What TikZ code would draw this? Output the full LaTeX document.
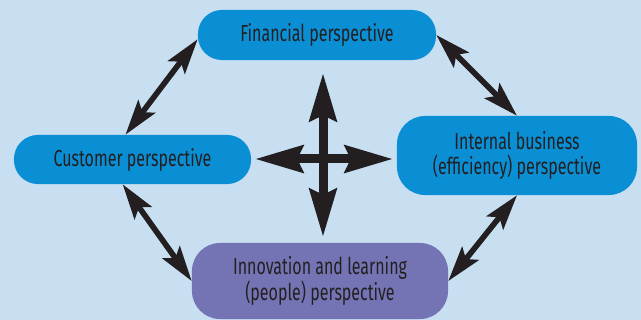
\documentclass[tikz,border=0pt]{standalone}
\usepackage{fontspec}
\setmainfont[FakeStretch=0.69]{Fira Sans}
\usetikzlibrary{arrows.meta}

\definecolor{bgblue}{HTML}{C8DFF2}
\definecolor{boxblue}{HTML}{0A8FD5}
\definecolor{boxpurple}{HTML}{7474B5}
\definecolor{ink}{HTML}{231F20}

\begin{document}
\begin{tikzpicture}[
  x=0.025cm, y=-0.025cm,
  persp/.style={rectangle, rounded corners=17pt, fill=boxblue, text=ink,
    align=center, inner sep=0pt, font=\fontsize{16.5}{18}\selectfont},
  tallpersp/.style={persp, rounded corners=20pt, minimum height=55pt},
  link/.style={draw=ink, line width=4pt,
    {Stealth[length=25pt, width=15pt, inset=5pt]}-{Stealth[length=25pt, width=15pt, inset=5pt]}},
  bigarrow/.style={draw=ink, line width=6.4pt,
    {Stealth[length=34pt, width=19pt, inset=4pt]}-{Stealth[length=34pt, width=19pt, inset=4pt]}}
]
  \fill[bgblue] (0,0) rectangle (641,320);
  \useasboundingbox (0,0) rectangle (641,320);

  % the four perspectives
  \node[persp, minimum width=169.3pt, minimum height=35.6pt] (fin) at (317,35) {Financial perspective};
  \node[persp, minimum width=168.6pt, minimum height=34.9pt] (cust) at (132.5,159.5) {Customer perspective};
  \node[tallpersp, minimum width=170.7pt, minimum height=56.2pt] (int) at (517,155.5)
    {Internal business\\(efficiency) perspective};
  \node[tallpersp, fill=boxpurple, minimum width=182.1pt, minimum height=54.1pt] (innov) at (320,281)
    {Innovation and learning\\(people) perspective};

  % links round the ring
  \draw[link] ([xshift=-5pt]cust.north) -- ([yshift=-3pt]fin.west);
  \draw[link] (fin.east) -- (int.north);
  \draw[link] ([xshift=-7pt]cust.south) -- (innov.west);
  \draw[link] (int.south) -- (innov.east);

  % cross in the middle
  \coordinate (hub) at (323,159);
  \draw[bigarrow] (hub) ++(0,-86) -- ++(0,164);
  \draw[bigarrow] (hub) ++(-68,0) -- ++(138,0);
\end{tikzpicture}
\end{document}
